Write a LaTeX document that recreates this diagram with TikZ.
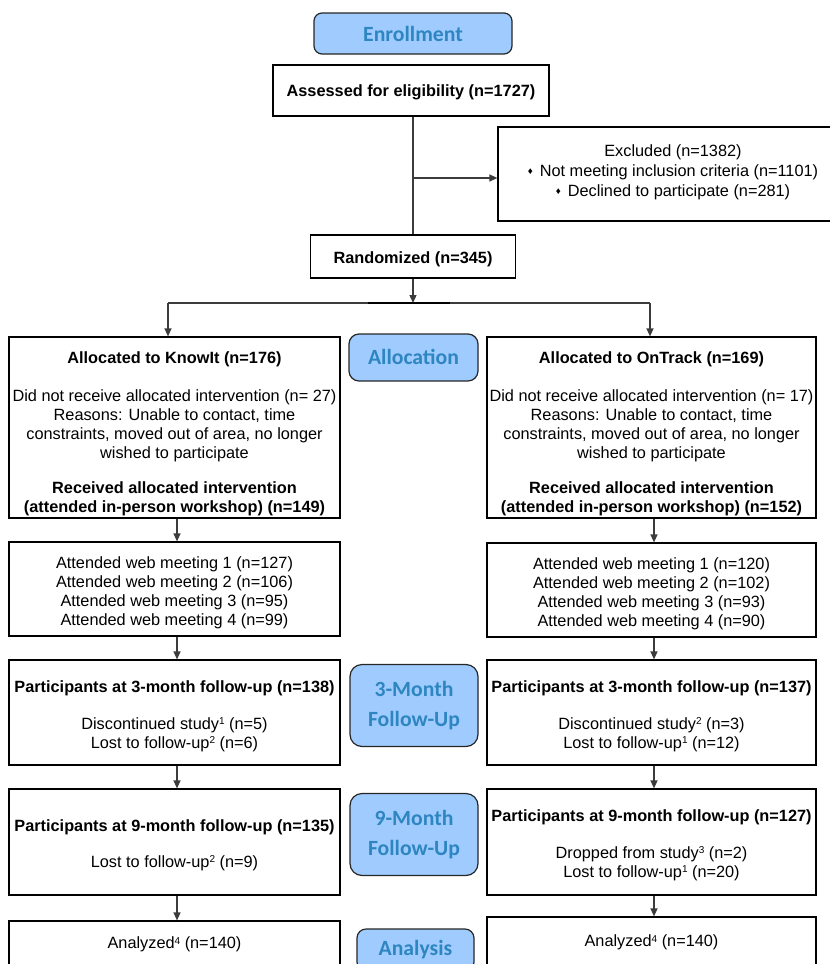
\documentclass[tikz,border=0pt]{standalone}
\usepackage{fontspec}
\usepackage{graphicx}
\setmainfont{Liberation Sans}
\newfontfamily\labfont{Carlito}
\usetikzlibrary{arrows.meta}
\definecolor{labfill}{RGB}{160,203,255}
\definecolor{labtext}{RGB}{46,134,193}
\definecolor{conn}{RGB}{60,60,60}
\newcommand\bul{\raisebox{1.5pt}{\scalebox{0.6}{♦}}\hspace{7pt}}
\newcommand\sups[1]{\raisebox{4.5pt}{\fontsize{10}{10}\selectfont #1}}
\begin{document}
\begin{tikzpicture}[x=1pt,y=-1pt,
  box/.style={draw=black, line width=1.2pt, inner sep=0pt},
  txt/.style={align=center, inner sep=0pt, font=\fontsize{16.3}{19}\selectfont},
  btxt/.style={txt, font=\fontsize{16.3}{19}\selectfont\bfseries},
  lab/.style={draw=black!85, line width=1.2pt, fill=labfill, rounded corners=10pt,
    text=labtext, align=center, inner sep=0pt,
    font=\labfont\bfseries\fontsize{21.7}{30}\selectfont},
  arr/.style={draw=conn, line width=1.3pt, -{Triangle[length=8pt,width=7pt]}},
  conline/.style={draw=conn, line width=1.3pt}]
\useasboundingbox (0,0) rectangle (830,964);
\clip (0,0) rectangle (830,964);

% ---- enrollment ----
\node[lab, rounded corners=8pt, minimum width=198pt, minimum height=41pt] (enr) at (413,33.5) {Enrollment};
\node[box, minimum width=276pt, minimum height=51pt] (assess) at (411,90.5) {};
\node[btxt] (assesst) at (411,92.5) {Assessed for eligibility (n=1727)};
\node[box, minimum width=352pt, minimum height=94pt] (excl) at (674,174) {};
\node[txt, font=\fontsize{16.3}{20}\selectfont] (excltxt) at (673,172) {Excluded (n=1382)\\ \bul Not meeting inclusion criteria (n=1101)\\ \bul Declined to participate (n=281)};
\node[box, minimum width=205pt, minimum height=43pt] (rand) at (413,256.5) {};
\node[btxt] (randt) at (413,259.5) {Randomized (n=345)};

\draw[conline] (assess.south -| rand.north) -- (rand.north);
\coordinate (br) at (413,178);
\draw[arr] (br) -- (br -| excl.west);

\coordinate (split) at (413,303);
\coordinate (sl) at (168,303);
\coordinate (sr) at (650,303);
\coordinate (thk1) at (368,303);
\coordinate (thk2) at (450,303);
\draw[conline] (sl) -- (sr);
\draw[draw=black, line width=1.6pt] (thk1) -- (thk2);
\draw[arr] (rand.south) -- (split);

% ---- allocation ----
\node[lab, minimum width=129pt, minimum height=47pt] (labAlloc) at (413.5,357.5) {\raisebox{2pt}{Allocation}};
\node[box, minimum width=331pt, minimum height=181pt] (allocL) at (174.5,427.5) {};
\node[txt] (allocLt) at (174.5,434) {%
  \textbf{Allocated to KnowIt (n=176)}\\[19pt]
  Did not receive allocated intervention (n= 27)\\
  Reasons: Unable to contact, time\\
  constraints, moved out of area, no longer\\
  wished to participate\\[16pt]
  \textbf{Received allocated intervention}\\
  \textbf{(attended in-person workshop) (n=149)}};
\node[box, minimum width=329pt, minimum height=181pt] (allocR) at (651.5,427.5) {};
\node[txt] (allocRt) at (651.5,434) {%
  \textbf{Allocated to OnTrack (n=169)}\\[19pt]
  Did not receive allocated intervention (n= 17)\\
  Reasons: Unable to contact, time\\
  constraints, moved out of area, no longer\\
  wished to participate\\[16pt]
  \textbf{Received allocated intervention}\\
  \textbf{(attended in-person workshop) (n=152)}};
\draw[arr] (sl) -- (sl |- allocL.north);
\draw[arr] (sr) -- (sr |- allocR.north);

\node[box, minimum width=331pt, minimum height=94pt] (webL) at (174.5,589) {};
\node[txt] (webLt) at (174.5,593) {%
  Attended web meeting 1 (n=127)\\
  Attended web meeting 2 (n=106)\\
  Attended web meeting 3 (n=95)\\
  Attended web meeting 4 (n=99)};
\node[box, minimum width=329pt, minimum height=94pt] (webR) at (651.5,590) {};
\node[txt] (webRt) at (651.5,594) {%
  Attended web meeting 1 (n=120)\\
  Attended web meeting 2 (n=102)\\
  Attended web meeting 3 (n=93)\\
  Attended web meeting 4 (n=90)};

% ---- 3-month ----
\node[lab, rounded corners=12pt, minimum width=128pt, minimum height=82pt] (lab3) at (414,705.5) {3-Month\\Follow-Up};
\node[box, minimum width=331pt, minimum height=105pt] (fuL) at (174.5,712.5) {};
\node[txt] (fuLt) at (174.5,716) {%
  \textbf{Participants at 3-month follow-up (n=138)}\\[18pt]
  Discontinued study\sups{1} (n=5)\\
  Lost to follow-up\sups{2} (n=6)};
\node[box, minimum width=329pt, minimum height=105pt] (fuR) at (651.5,712.5) {};
\node[txt] (fuRt) at (651.5,716) {%
  \textbf{Participants at 3-month follow-up (n=137)}\\[18pt]
  Discontinued study\sups{2} (n=3)\\
  Lost to follow-up\sups{1} (n=12)};

% ---- 9-month ----
\node[lab, rounded corners=12pt, minimum width=128pt, minimum height=82pt] (lab9) at (414,834.5) {9-Month\\Follow-Up};
\node[box, minimum width=331pt, minimum height=106pt] (nmL) at (174.5,842) {};
\node[txt] (nmLt) at (174.5,845) {%
  \textbf{Participants at 9-month follow-up (n=135)}\\[17pt]
  Lost to follow-up\sups{2} (n=9)};
\node[box, minimum width=329pt, minimum height=106pt] (nmR) at (651.5,842) {};
\node[txt] (nmRt) at (651.5,845) {%
  \textbf{Participants at 9-month follow-up (n=127)}\\[18pt]
  Dropped from study\sups{3} (n=2)\\
  Lost to follow-up\sups{1} (n=20)};

% ---- analysis ----
\node[lab, rounded corners=9pt, minimum width=117pt, minimum height=42pt] (labAn) at (415.5,950) {Analysis};
\node[box, minimum width=331pt, minimum height=44pt] (anL) at (174.5,943) {};
\node[txt] (anLt) at (174.5,944.5) {Analyzed\sups{4} (n=140)};
\node[box, minimum width=329pt, minimum height=48pt] (anR) at (651.5,941) {};
\node[txt] (anRt) at (651.5,942.5) {Analyzed\sups{4} (n=140)};

% ---- vertical arrows ----
\draw[arr] ([xshift=2.5pt]allocL.south) -- ([xshift=2.5pt]webL.north);
\draw[arr] ([xshift=2.5pt]webL.south) -- ([xshift=2.5pt]fuL.north);
\draw[arr] ([xshift=2.5pt]fuL.south) -- ([xshift=2.5pt]nmL.north);
\draw[arr] ([xshift=2.5pt]nmL.south) -- ([xshift=2.5pt]anL.north);
\draw[arr] ([xshift=2.5pt]allocR.south) -- ([xshift=2.5pt]webR.north);
\draw[arr] ([xshift=2.5pt]webR.south) -- ([xshift=2.5pt]fuR.north);
\draw[arr] ([xshift=2.5pt]fuR.south) -- ([xshift=2.5pt]nmR.north);
\draw[arr] ([xshift=2.5pt]nmR.south) -- ([xshift=2.5pt]anR.north);
\end{tikzpicture}
\end{document}
